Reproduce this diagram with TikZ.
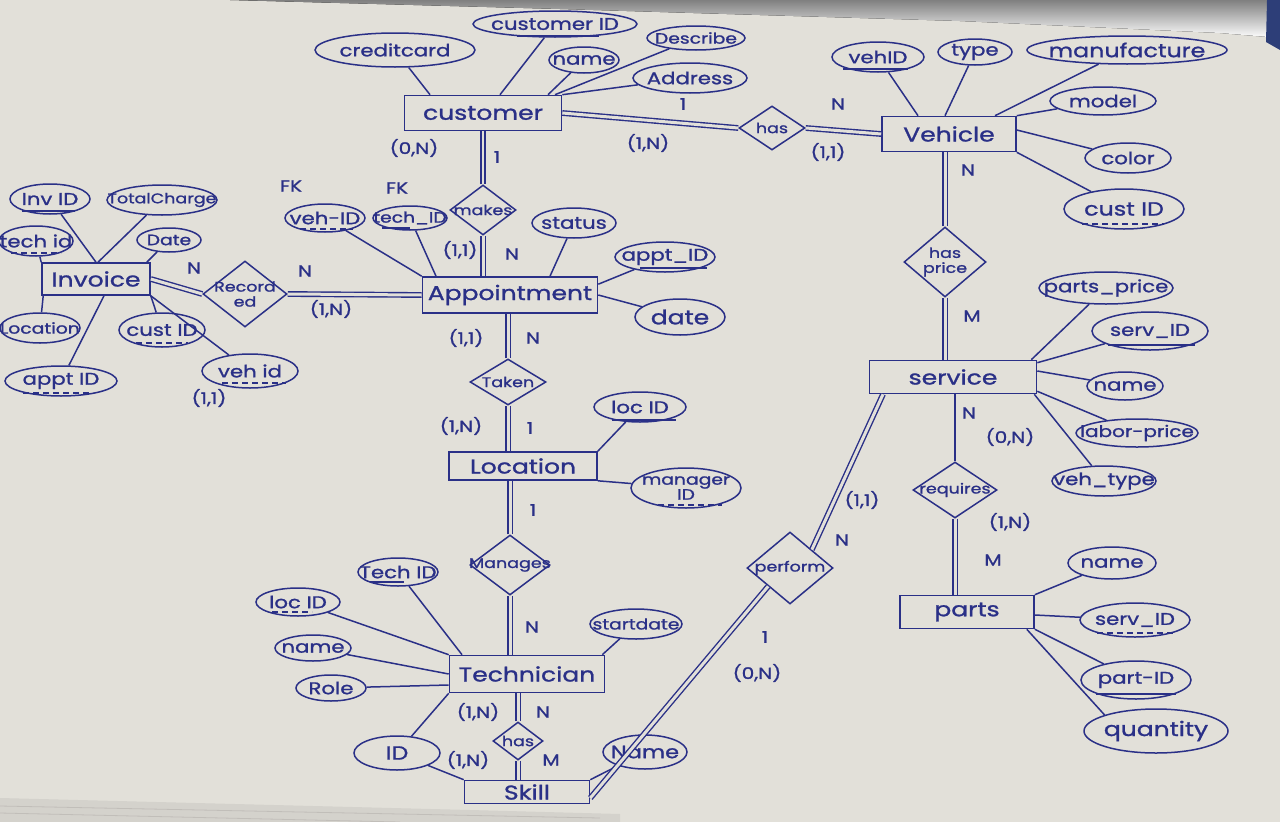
\documentclass[tikz,border=0pt]{standalone}
\usepackage{fontspec}
\setmainfont{Poppins}[FakeStretch=1.25,FakeBold=1.2]
\usetikzlibrary{shapes.geometric,calc}
\definecolor{ink}{RGB}{42,48,135}
\definecolor{paper}{RGB}{226,224,217}
\definecolor{paperdark}{RGB}{212,210,204}
\definecolor{shade}{RGB}{178,176,172}
\definecolor{corner}{RGB}{45,62,120}
\newcommand\ERattr[7][]{%
  \node[attr,minimum width=#5,minimum height=#6] (#2) at (#3,#4) {};
  \node[atext,#1] (#2t) at (#2) {#7};}
\newcommand\ERrel[7][]{%
  \node[rel,minimum width=#5,minimum height=#6] (#2) at (#3,#4) {};
  \node[rtext,#1] (#2t) at (#2) {#7};}
\newcommand\ERul[5][ul]{\draw[#1] ($(#2)+(#3,#5)$) -- ($(#2)+(#4,#5)$);}
\begin{document}
\begin{tikzpicture}[x=1pt,y=-1pt,
  ent/.style={draw=ink,line width=1.6pt,rectangle,inner sep=0pt,text=ink,font=\fontsize{20}{22}\selectfont},
  attr/.style={draw=ink,line width=1.5pt,ellipse,inner sep=0pt},
  rel/.style={draw=ink,line width=1.5pt,diamond,inner sep=0pt},
  atext/.style={text=ink,font=\fontsize{17}{18}\selectfont,inner sep=0pt,align=center},
  rtext/.style={text=ink,font=\fontsize{14}{15}\selectfont,inner sep=0pt,align=center},
  card/.style={text=ink,font=\fontsize{16}{18}\selectfont,inner sep=0pt},
  lnk/.style={draw=ink,line width=1.5pt},
  dbl/.style={draw=ink,line width=1.4pt,double=paper,double distance=3pt},
  ul/.style={draw=ink,line width=1.4pt},
  dul/.style={draw=ink,line width=1.4pt,dash pattern=on 6pt off 4pt}]
\useasboundingbox (0,0) rectangle (1280,822);
% paper
\fill[paper] (0,0) rectangle (1280,822);
\fill[shade] (230,0) -- (1280,0) -- (1280,38) -- (1220,33) -- (960,21) -- (560,9) -- cycle;
\fill[corner] (1267,0) -- (1280,0) -- (1280,50) -- (1266,42) -- cycle;
\fill[paperdark] (0,798) -- (470,810) -- (620,814) -- (620,822) -- (0,822) -- cycle;
\draw[shade!70!paper,line width=0.8pt] (0,806) -- (600,818);
\draw[shade!70!paper,line width=0.8pt] (0,813) -- (400,822);

% ---------------- entities
\node[ent,minimum width=157,minimum height=35] (cust) at (483,113) {customer};
\node[ent,minimum width=134,minimum height=35] (veh) at (949,134) {Vehicle};
\node[ent,minimum width=167,minimum height=33] (serv) at (953,377) {service};
\node[ent,minimum width=134,minimum height=33] (parts) at (967,612) {parts};
\node[ent,minimum width=108,minimum height=32] (inv) at (96,279) {Invoice};
\node[ent,minimum width=175,minimum height=36] (appt) at (510,295) {Appointment};
\node[ent,minimum width=148,minimum height=28] (loc) at (523,466) {Location};
\node[ent,minimum width=155,minimum height=37] (tech) at (527,674) {Technician};
\node[ent,minimum width=125,minimum height=23] (skill) at (527,792) {Skill};

% ---------------- relationships
\ERrel{hasCV}{772}{128}{66}{44}{has}
\ERrel{hasPrice}{945}{262}{82}{70}{has\\price}
\ERrel{req}{955}{490}{84}{56}{requires}
\ERrel{perf}{790}{568}{86}{72}{perform}
\ERrel{rec}{245}{294}{84}{66}{Record\\ed}
\ERrel{makes}{483}{210}{66}{50}{makes}
\ERrel{taken}{508}{382}{76}{46}{Taken}
\ERrel{manages}{510}{565}{80}{60}{Manages}
\ERrel{hasTS}{518}{741}{50}{38}{has}

% ---------------- attributes: customer
\ERattr{acc}{395}{50}{160}{34}{creditcard}
\ERattr{acid}{555}{24}{164}{26}{customer ID}
\ERattr{acname}{584}{60}{70}{26}{name}
\ERattr[font=\fontsize{15}{16}\selectfont]{adesc}{696}{38}{98}{24}{Describe}
\ERattr{aaddr}{690}{78}{114}{30}{Address}
% vehicle
\ERattr{vid}{878}{57}{92}{30}{vehID}
\ERattr{vtype}{975}{52}{74}{26}{type}
\ERattr[font=\fontsize{19}{20}\selectfont]{vman}{1127}{50}{200}{28}{manufacture}
\ERattr{vmodel}{1103}{101}{106}{28}{model}
\ERattr{vcolor}{1128}{158}{86}{30}{color}
\ERattr[font=\fontsize{19}{20}\selectfont]{vcust}{1124}{209}{120}{40}{cust ID}
% service
\ERattr{spp}{1106}{288}{134}{32}{parts\_price}
\ERattr{sid}{1150}{331}{116}{38}{serv\_ID}
\ERattr{sname}{1125}{386}{76}{28}{name}
\ERattr[font=\fontsize{16}{17}\selectfont]{slp}{1137}{433}{122}{28}{labor-price}
\ERattr{svt}{1104}{481}{104}{30}{veh\_type}
% parts
\ERattr{pname}{1112}{563}{88}{32}{name}
\ERattr{psid}{1135}{620}{110}{34}{serv\_ID}
\ERattr{ppid}{1136}{680}{110}{38}{part-ID}
\ERattr[font=\fontsize{20}{21}\selectfont]{pqty}{1156}{731}{144}{44}{quantity}
% invoice
\ERattr{iid}{50}{199}{80}{30}{Inv ID}
\ERattr[font=\fontsize{14}{15}\selectfont]{itot}{162}{200}{110}{30}{TotalCharge}
\ERattr{itech}{36}{241}{74}{30}{tech id}
\ERattr[font=\fontsize{15}{16}\selectfont]{idate}{169}{240}{64}{24}{Date}
\ERattr[font=\fontsize{15}{16}\selectfont]{iloc}{40}{328}{80}{30}{Location}
\ERattr{icust}{162}{330}{86}{34}{cust ID}
\ERattr{iappt}{61}{381}{112}{30}{appt ID}
\ERattr{iveh}{250}{371}{96}{34}{veh id}
% appointment
\ERattr{apveh}{325}{218}{80}{28}{veh-ID}
\ERattr[font=\fontsize{15}{16}\selectfont]{aptech}{410}{218}{74}{24}{tech\_ID}
\ERattr{apstatus}{574}{223}{84}{30}{status}
\ERattr{apid}{665}{257}{100}{30}{appt\_ID}
\ERattr[font=\fontsize{20}{21}\selectfont]{apdate}{680}{317}{90}{36}{date}
% location
\ERattr{lid}{640}{407}{92}{30}{loc ID}
\ERattr[font=\fontsize{15}{15}\selectfont]{lman}{686}{488}{110}{40}{manager\\ID}
% technician
\ERattr{tid}{398}{572}{80}{28}{Tech ID}
\ERattr{tloc}{298}{602}{84}{28}{loc ID}
\ERattr{tname}{313}{648}{76}{26}{name}
\ERattr{trole}{331}{688}{70}{26}{Role}
\ERattr[font=\fontsize{15}{16}\selectfont]{tstart}{636}{624}{92}{30}{startdate}
% skill
\ERattr[font=\fontsize{19}{20}\selectfont]{kid}{397}{753}{86}{34}{ID}
\ERattr[font=\fontsize{18}{19}\selectfont]{kname}{645}{752}{84}{34}{Name}

% ---------------- underlines (keys)
\ERul{acid}{-38}{44}{12}
\ERul{vid}{-35}{30}{12}
\ERul[dul]{vcust}{-42}{40}{15}
\ERul{sid}{-42}{45}{14}
\ERul[dul]{psid}{-38}{40}{13}
\ERul{ppid}{-40}{40}{14}
\ERul{iid}{-28}{25}{12}
\ERul[dul]{itech}{-25}{25}{12}
\ERul[dul]{icust}{-26}{26}{13}
\ERul[dul]{iappt}{-38}{32}{12}
\ERul[dul]{iveh}{-28}{36}{12}
\ERul[dul]{apveh}{-25}{28}{11}
\ERul{aptech}{-28}{0}{10}
\ERul{apid}{-25}{42}{11}
\ERul{lid}{-28}{36}{13}
\ERul[dul]{lman}{-28}{36}{17}
\ERul{tid}{-28}{6}{10}
\ERul[dul]{tloc}{-26}{14}{10}

% ---------------- cardinality labels
\node[card] (c1) at (414,148) {(0,N)};
\node[card] (c2) at (497,157) {1};
\node[card] (c3) at (683,104) {1};
\node[card] (c4) at (648,143) {(1,N)};
\node[card] (c5) at (838,104) {N};
\node[card] (c6) at (828,152) {(1,1)};
\node[card] (c7) at (968,170) {N};
\node[card] (c8) at (972,316) {M};
\node[card] (c9) at (969,413) {N};
\node[card] (c10) at (1010,437) {(0,N)};
\node[card] (c11) at (1010,522) {(1,N)};
\node[card] (c12) at (993,560) {M};
\node[card] (c13) at (862,500) {(1,1)};
\node[card] (c14) at (842,540) {N};
\node[card] (c15) at (765,637) {1};
\node[card] (c16) at (757,673) {(0,N)};
\node[card] (c17) at (291,186) {FK};
\node[card] (c18) at (397,188) {FK};
\node[card] (c19) at (194,268) {N};
\node[card] (c20) at (305,271) {N};
\node[card] (c21) at (331,309) {(1,N)};
\node[card] (c22) at (209,398) {(1,1)};
\node[card] (c23) at (460,250) {(1,1)};
\node[card] (c24) at (512,254) {N};
\node[card] (c25) at (466,338) {(1,1)};
\node[card] (c26) at (533,338) {N};
\node[card] (c27) at (461,426) {(1,N)};
\node[card] (c28) at (530,428) {1};
\node[card] (c29) at (533,510) {1};
\node[card] (c30) at (532,627) {N};
\node[card] (c31) at (478,712) {(1,N)};
\node[card] (c32) at (543,712) {N};
\node[card] (c33) at (468,760) {(1,N)};
\node[card] (c34) at (551,760) {M};

% ---------------- attribute links
\draw[lnk] (acc) -- ([xshift=-53]cust.north);
\draw[lnk] (acid) -- ([xshift=17]cust.north);
\draw[lnk] (acname) -- ([xshift=65]cust.north);
\draw[lnk] (adesc) -- ([xshift=72]cust.north);
\draw[lnk] (aaddr) -- (cust.north east);

\draw[lnk] (vid) -- ([xshift=-31]veh.north);
\draw[lnk] (vtype) -- ([xshift=-4]veh.north);
\draw[lnk] (vman) -- ([xshift=46]veh.north);
\draw[lnk] (vmodel) -- (veh.north east);
\draw[lnk] (vcolor) -- ([yshift=4]veh.east);
\draw[lnk] (vcust) -- (veh.south east);

\draw[lnk] (spp) -- ([xshift=-6]serv.north east);
\draw[lnk] (sid) -- ([yshift=-3]serv.north east);
\draw[lnk] (sname) -- ([yshift=6]serv.east);
\draw[lnk] (slp) -- ([yshift=3]serv.south east);
\draw[lnk] (svt) -- ([xshift=-3]serv.south east);

\draw[lnk] (pname) -- (parts.north east);
\draw[lnk] (psid) -- ([yshift=-3]parts.east);
\draw[lnk] (ppid) -- (parts.south east);
\draw[lnk] (pqty.north west) -- ([xshift=-8]parts.south east);

\draw[lnk] (iid) -- (inv.north);
\draw[lnk] (itot) -- ([xshift=2]inv.north);
\draw[lnk] (itech) -- (inv.north west);
\draw[lnk] (idate) -- ([xshift=-4]inv.north east);
\draw[lnk] (iloc) -- ([xshift=2]inv.south west);
\draw[lnk] (icust) -- (inv.south east);
\draw[lnk] (iappt) -- ([xshift=8]inv.south);
\draw[lnk] (iveh) -- (inv.south east);

\draw[lnk] (apveh) -- (appt.north west);
\draw[lnk] (aptech) -- ([xshift=-74]appt.north);
\draw[lnk] (apstatus) -- ([xshift=40]appt.north);
\draw[lnk] (apid) -- ([yshift=-8]appt.north east);
\draw[lnk] (apdate) -- (appt.east);

\draw[lnk] (lid) -- (loc.north east);
\draw[lnk] (lman) -- (loc.south east);

\draw[lnk] (tid) -- ([xshift=-65]tech.north);
\draw[lnk] (tloc) -- (tech.north west);
\draw[lnk] (tname) -- (tech.west);
\draw[lnk] (trole) -- ([yshift=-11]tech.west);
\draw[lnk] (tstart) -- ([xshift=-3]tech.north east);

\draw[lnk] (kid) -- (tech.south west);
\draw[lnk] (kid) -- (skill.north west);
\draw[lnk] (kname) -- (skill.north east);

% ---------------- relationship links
\draw[dbl] (cust.east) -- (hasCV.west);
\draw[dbl] (hasCV.east) -- (veh.west);
\draw[dbl] (hasPrice.north) -- (hasPrice.north |- veh.south);
\draw[dbl] (hasPrice.south) -- (hasPrice.south |- serv.north);
\draw[lnk] (req.north) -- (req.north |- serv.south);
\draw[dbl] (req.south) -- (req.south |- parts.north);
\draw[dbl] ([xshift=-70]serv.south) -- (perf.north east);
\draw[dbl] (perf.south west) -- ([yshift=-6]skill.east);
\draw[dbl] (inv.east) -- (rec.west);
\draw[dbl] (rec.east) -- (appt.west);
\draw[dbl,line width=2.4pt,double distance=1.2pt] (makes.north) -- (makes.north |- cust.south);
\draw[dbl] (makes.south) -- (makes.south |- appt.north);
\draw[dbl] (taken.north) -- (taken.north |- appt.south);
\draw[dbl] (taken.south) -- (taken.south |- loc.north);
\draw[dbl] (manages.north) -- (manages.north |- loc.south);
\draw[dbl] (manages.south) -- (manages.south |- tech.north);
\draw[dbl] (hasTS.north) -- (hasTS.north |- tech.south);
\draw[dbl] (hasTS.south) -- (hasTS.south |- skill.north);
\end{tikzpicture}
\end{document}
